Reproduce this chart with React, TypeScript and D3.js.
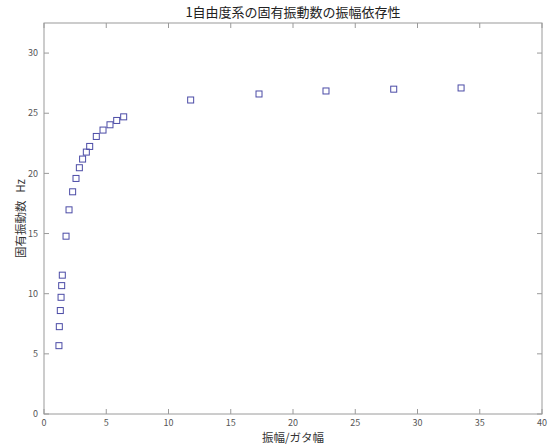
import { useEffect, useRef } from 'react';
import * as d3 from 'd3';

// amplitude / backlash ratio vs natural frequency
const amplitude = [
  1.2, 1.23, 1.31, 1.37, 1.42, 1.47, 1.77, 2.01, 2.3, 2.57, 2.84, 3.1, 3.4, 3.67,
  4.2, 4.74, 5.3, 5.84, 6.4, 11.78, 17.27, 22.65, 28.09, 33.5,
];
const frequency = [
  5.68, 7.26, 8.6, 9.7, 10.67, 11.54, 14.78, 16.97, 18.47, 19.58, 20.47, 21.19, 21.77, 22.24,
  23.07, 23.6, 24.04, 24.4, 24.7, 26.1, 26.6, 26.85, 27.0, 27.1,
];
const xTicks = [0, 5, 10, 15, 20, 25, 30, 35, 40];
const yTicks = [0, 5, 10, 15, 20, 25, 30];

const TITLE = '1自由度系の固有振動数の振幅依存性';
const X_LABEL = '振幅/ガタ幅';
const Y_LABEL = '固有振動数   Hz';

const FONT = '"Noto Sans CJK JP", "Noto Sans", sans-serif';

export default function App() {
  const ref = useRef<SVGSVGElement>(null);
  const width = 553, height = 446;

  useEffect(() => {
    const margin = { top: 23, right: 11, bottom: 32, left: 44 };
    const innerW = width - margin.left - margin.right;
    const innerH = height - margin.top - margin.bottom;
    const svg = d3.select(ref.current);
    svg.selectAll('*').remove();

    const x = d3.scaleLinear().domain([0, 40]).range([0, innerW]);
    const y = d3.scaleLinear().domain([0, 32.5]).range([innerH, 0]);
    const g = svg.append('g').attr('transform', `translate(${margin.left},${margin.top})`);

    const axisColor = '#9a9a9a';
    const tickLen = 5;

    // Box
    g.append('rect').attr('x', 0).attr('y', 0).attr('width', innerW).attr('height', innerH)
      .attr('fill', 'none').attr('stroke', axisColor).attr('stroke-width', 1);

    // Inward ticks on all four sides
    const ticks = g.append('g').attr('stroke', axisColor).attr('stroke-width', 1);
    xTicks.forEach(t => {
      ticks.append('line').attr('x1', x(t)).attr('x2', x(t)).attr('y1', innerH).attr('y2', innerH - tickLen);
      ticks.append('line').attr('x1', x(t)).attr('x2', x(t)).attr('y1', 0).attr('y2', tickLen);
    });
    yTicks.forEach(t => {
      ticks.append('line').attr('x1', 0).attr('x2', tickLen).attr('y1', y(t)).attr('y2', y(t));
      ticks.append('line').attr('x1', innerW).attr('x2', innerW - tickLen).attr('y1', y(t)).attr('y2', y(t));
    });

    // Tick labels
    g.append('g').selectAll('text').data(xTicks).join('text')
      .attr('x', d => x(d)).attr('y', innerH + 12)
      .attr('text-anchor', 'middle').attr('font-size', 9).attr('fill', '#555')
      .attr('font-family', FONT)
      .text(d => d);
    g.append('g').selectAll('text').data(yTicks).join('text')
      .attr('x', -6).attr('y', d => y(d)).attr('dy', '0.35em')
      .attr('text-anchor', 'end').attr('font-size', 9).attr('fill', '#555')
      .attr('font-family', FONT)
      .text(d => d);

    // Markers
    const size = 6;
    g.append('g').selectAll('rect').data(amplitude.map((a, i) => [a, frequency[i]]))
      .join('rect')
      .attr('x', d => x(d[0]) - size / 2).attr('y', d => y(d[1]) - size / 2)
      .attr('width', size).attr('height', size)
      .attr('fill', 'none').attr('stroke', '#4b4ba6').attr('stroke-width', 1);

    // Title and labels
    svg.append('text').attr('x', margin.left + innerW / 2).attr('y', 17)
      .attr('text-anchor', 'middle').attr('font-size', 13).attr('fill', '#222')
      .attr('font-family', FONT).text(TITLE);
    svg.append('text').attr('x', margin.left + innerW / 2).attr('y', 442)
      .attr('text-anchor', 'middle').attr('font-size', 11.5).attr('fill', '#333')
      .attr('font-family', FONT).text(X_LABEL);
    svg.append('text')
      .attr('transform', `translate(25,${margin.top + innerH / 2}) rotate(-90)`)
      .attr('text-anchor', 'middle').attr('font-size', 11.5).attr('fill', '#333')
      .style('white-space', 'pre')
      .attr('font-family', FONT).text(Y_LABEL);
  }, []);

  return (
    <svg ref={ref} width={width} height={height}
      style={{ position: 'absolute', left: 0, top: 0, background: '#fff' }} />
  );
}
